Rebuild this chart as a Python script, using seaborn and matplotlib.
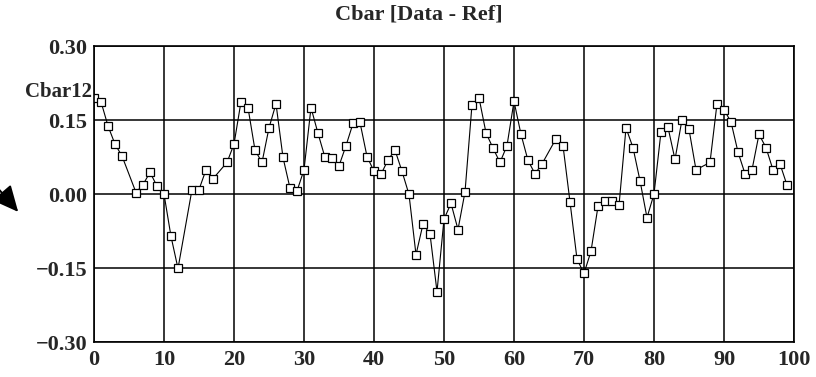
import matplotlib
matplotlib.use("Agg")
import matplotlib.pyplot as plt
import seaborn as sns
import pandas as pd

x_vals = [0, 1, 2, 3, 4, 6, 7, 8, 9, 10, 11, 12, 14, 15, 16, 17, 19, 20,
          21, 22, 23, 24, 25, 26, 27, 28, 29, 30, 31, 32, 33, 34, 35, 36,
          37, 38, 39, 40, 41, 42, 43, 44, 45, 46, 47, 48, 49, 50, 51, 52,
          53, 54, 55, 56, 57, 58, 59, 60, 61, 62, 63, 64, 66, 67, 68, 69,
          70, 71, 72, 73, 74, 75, 76, 77, 78, 79, 80, 81, 82, 83, 84, 85,
          86, 88, 89, 90, 91, 92, 93, 94, 95, 96, 97, 98, 99]
cbar12 = [0.195, 0.187, 0.138, 0.101, 0.077, 0.003, 0.019, 0.044, 0.016, 0.000,
          -0.086, -0.151, 0.009, 0.009, 0.049, 0.031, 0.064, 0.101,
          0.187, 0.175, 0.089, 0.064, 0.134, 0.183, 0.074, 0.012, 0.006, 0.049,
          0.175, 0.123, 0.074, 0.072, 0.057, 0.098,
          0.143, 0.145, 0.076, 0.046, 0.040, 0.069, 0.089, 0.046, -0.001, -0.123,
          -0.061, -0.081, -0.198, -0.051, -0.019, -0.072,
          0.004, 0.181, 0.195, 0.124, 0.093, 0.064, 0.098, 0.188, 0.121, 0.068,
          0.041, 0.061, 0.112, 0.098, -0.016, -0.132,
          -0.161, -0.116, -0.025, -0.015, -0.015, -0.023, 0.134, 0.094, 0.027,
          -0.048, 0.000, 0.126, 0.135, 0.070, 0.151, 0.131,
          0.049, 0.064, 0.183, 0.171, 0.146, 0.085, 0.041, 0.049, 0.121, 0.094,
          0.049, 0.061, 0.018]

y_ticks = [0.30, 0.15, 0.00, -0.15, -0.30]
y_ticklabels = ["0.30", "0.15", "0.00", "\u22120.15", "\u22120.30"]
x_ticks = [0, 10, 20, 30, 40, 50, 60, 70, 80, 90, 100]
title = "Cbar [Data - Ref]"
series_label = "Cbar12"

df = pd.DataFrame({"x": x_vals, "y": cbar12})

sns.set_style("white")
plt.rcParams["font.family"] = ["Liberation Serif", "DejaVu Serif"]
plt.rcParams["font.weight"] = "bold"

W, H = 816, 377
fig = plt.figure(figsize=(W / 100, H / 100), dpi=100)
ax = fig.add_axes([94 / W, 1 - 342 / H, 700 / W, 296 / H])

sns.lineplot(data=df, x="x", y="y", ax=ax, color="black", linewidth=0.8,
             marker="s", markersize=5.5, markerfacecolor="white",
             markeredgecolor="black", markeredgewidth=0.9)

ax.set_xlim(0, 100)
ax.set_ylim(-0.30, 0.30)
ax.set_xticks(x_ticks)
ax.set_xticklabels([str(t) for t in x_ticks])
ax.set_yticks(y_ticks)
ax.set_yticklabels(y_ticklabels)
ax.grid(True, color="black", linewidth=1.1)
ax.set_axisbelow(True)
for s in ax.spines.values():
    s.set_color("black")
    s.set_linewidth(1.2)
    s.set_visible(True)
ax.tick_params(axis="y", length=4, width=1, color="black", direction="out",
               labelsize=16, pad=1)
ax.tick_params(axis="x", length=0, labelsize=16, pad=6)
for lab in ax.get_xticklabels() + ax.get_yticklabels():
    lab.set_fontweight("bold")
ax.set_xlabel("")
ax.set_ylabel("")

fig.text(419 / W, 1 - 14 / H, title, ha="center", va="center",
         fontsize=16, fontweight="bold")
fig.text(92 / W, 1 - 92 / H, series_label, ha="right", va="center",
         fontsize=15, fontweight="bold")

ax.annotate("", xy=(20, H - 214), xycoords="figure pixels",
            xytext=(-4, H - 186), textcoords="figure pixels",
            arrowprops=dict(arrowstyle="-|>,head_length=1.6,head_width=0.75",
                            color="black", lw=1.4),
            annotation_clip=False)

fig.savefig("out.png", dpi=100, facecolor="white")
